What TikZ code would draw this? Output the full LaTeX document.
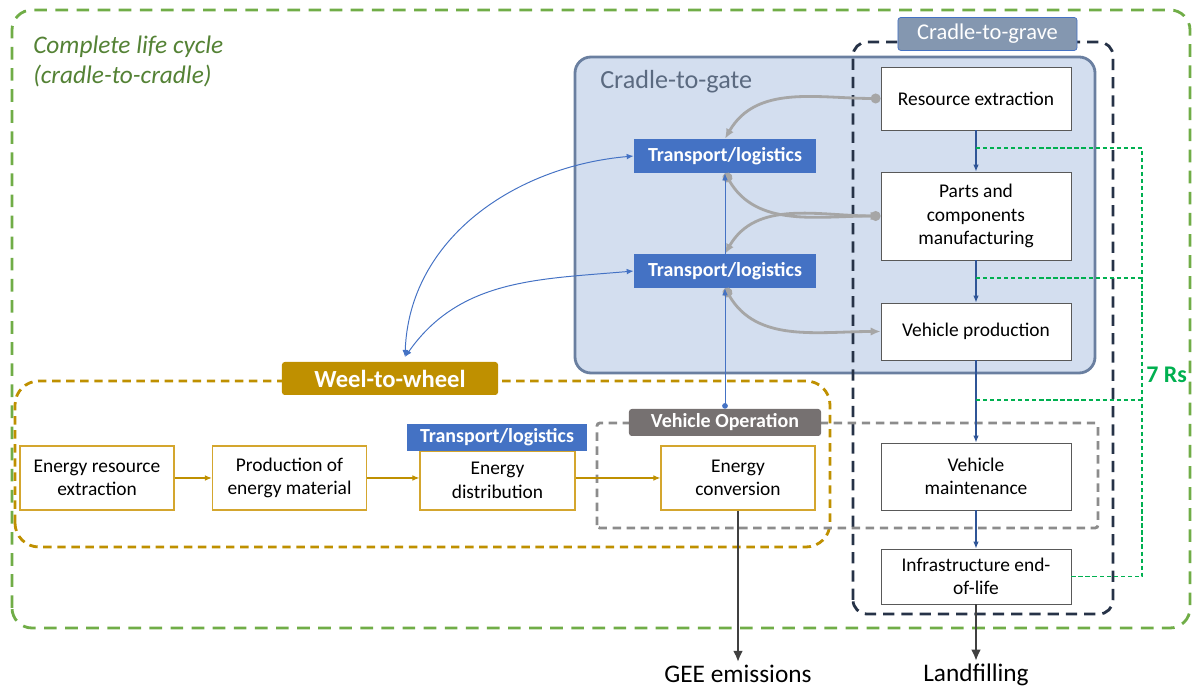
\documentclass[tikz,border=0pt]{standalone}
\usepackage{fontspec}
\setmainfont{Carlito}
\usetikzlibrary{positioning, arrows.meta}

\definecolor{lcgreen}{HTML}{70AD47}
\definecolor{lctext}{HTML}{548235}
\definecolor{gatefill}{HTML}{D3DEEF}
\definecolor{gateline}{HTML}{6A7FA0}
\definecolor{gatetext}{HTML}{5B6A80}
\definecolor{graveline}{HTML}{263247}
\definecolor{gravefill}{HTML}{8497B0}
\definecolor{boxgray}{HTML}{595959}
\definecolor{flowblue}{HTML}{2F5597}
\definecolor{logiblue}{HTML}{4472C4}
\definecolor{rsgreen}{HTML}{00B050}
\definecolor{wtwgold}{HTML}{BF9000}
\definecolor{wtwbox}{HTML}{D4A62E}
\definecolor{opgray}{HTML}{767171}
\definecolor{dashgray}{HTML}{8C8C8C}
\definecolor{arrowgray}{HTML}{A6A6A6}
\definecolor{outdark}{HTML}{404040}

\newcommand{\boxfont}{\fontsize{13.8}{16.8}\selectfont}
\newcommand{\tagfont}{\fontsize{16}{19}\selectfont}
\newcommand{\bigfont}{\fontsize{18}{21}\selectfont}

\begin{document}
\begin{tikzpicture}[x=0.025cm, y=0.025cm, >={Latex[length=5pt,width=4pt]},
  stage/.style={draw=boxgray, fill=white, line width=0.6pt, align=center, inner sep=0pt, minimum width=4.75cm, font=\boxfont},
  energy/.style={draw=wtwbox, fill=white, line width=0.8pt, align=center, inner sep=0pt, minimum width=3.85cm, minimum height=1.6cm, font=\boxfont},
  logistics/.style={fill=logiblue, text=white, inner sep=0pt, minimum width=4.55cm, minimum height=0.85cm, font=\fontsize{14.2}{17}\selectfont\bfseries},
  tag/.style={rounded corners=2pt, text=white, inner sep=0pt, font=\tagfont},
  flow/.style={->, flowblue, line width=0.8pt},
  efflow/.style={->, wtwgold, line width=0.8pt},
  reuse/.style={rsgreen, line width=0.8pt, dash pattern=on 3pt off 2pt},
  supply/.style={arrowgray, line width=2pt, {Circle[length=7pt]}-{Latex[length=7pt,width=6pt]}},
  link/.style={logiblue, line width=0.7pt},
  release/.style={outdark, line width=2pt, -{Latex[length=8pt,width=7pt]}}
]
  \useasboundingbox (0,0) rectangle (1196,688);

  % Define enclosures
  \draw[lcgreen, line width=2pt, dash pattern=on 9pt off 6pt, rounded corners=0.5cm] (12,60) rectangle (1190,678);
  \draw[gateline, fill=gatefill, line width=2pt, rounded corners=0.4cm] (575,315) rectangle (1095,631);
  \draw[graveline, line width=2pt, dash pattern=on 8pt off 5pt, rounded corners=0.35cm] (853,74) rectangle (1113,646);
  \draw[wtwgold, line width=2pt, dash pattern=on 6pt off 4pt, rounded corners=0.6cm] (15,141) rectangle (830,307);
  \draw[dashgray, line width=2pt, dash pattern=on 6pt off 4pt, rounded corners=2pt] (597,160) rectangle (1098,265);

  \node[anchor=north west, align=left, text=lctext, inner sep=0pt, font=\fontsize{18}{21.3}\selectfont\itshape] (cycle) at (33,652) {Complete life cycle\\(cradle-to-cradle)};
  \node[anchor=west, text=gatetext, inner sep=0pt, font=\fontsize{18.6}{21}\selectfont] (gate) at (600,606) {Cradle-to-gate};

  % Define blocks
  \node[stage, minimum height=1.575cm] (res) at (976,589.5) {Resource extraction};
  \node[stage, minimum height=2.2cm] (parts) at (976,472) {Parts and\\components\\manufacturing};
  \node[stage, minimum height=1.425cm] (vprod) at (976,356.5) {Vehicle production};
  \node[stage, minimum height=1.675cm] (vmaint) at (976,211.5) {Vehicle\\maintenance};
  \node[stage, minimum height=1.375cm] (eol) at (976,111.5) {Infrastructure end-\\of-life};

  \node[logistics] (tl1) at (725,532) {Transport/logistics};
  \node[logistics] (tl2) at (725,417) {Transport/logistics};

  \node[energy] (eres) at (97,210) {Energy resource\\extraction};
  \node[energy] (eprod) at (289.5,210) {Production of\\energy material};
  \node[energy, minimum width=3.875cm, minimum height=1.475cm] (edist) at (497.5,207.5) {Energy\\distribution};
  \node[energy] (econv) at (738,210) {Energy\\conversion};
  \node[logistics, minimum width=4.5cm, minimum height=0.675cm] (tl3) at (497,250.5) {Transport/logistics};

  \node[tag, fill=gravefill, draw=logiblue, line width=0.5pt, minimum width=4.475cm, minimum height=0.825cm] (grave) at (987.5,654) {Cradle-to-grave};
  \node[tag, fill=wtwgold, font=\fontsize{17.5}{20}\selectfont\bfseries, minimum width=5.4cm, minimum height=0.825cm] (wtw) at (390,309.5) {Weel-to-wheel};
  \node[tag, fill=opgray, font=\fontsize{14.2}{17}\selectfont\bfseries, minimum width=4.8cm, minimum height=0.675cm] (vop) at (725,265.5) {Vehicle Operation};

  \node[inner sep=2pt, font=\bigfont] (gee) at (738,14) {GEE emissions};
  \node[inner sep=2pt, font=\bigfont] (landfill) at (976,13) {Landfilling};
  \node[anchor=west, inner sep=0pt, text=rsgreen, font=\fontsize{17}{20}\selectfont\bfseries] (rs) at (1146,313) {7 Rs};

  % Connect blocks
  \draw[flow] (res) -- (parts);
  \draw[flow] (parts) -- (vprod);
  \draw[flow] (vprod) -- (vmaint);
  \draw[flow] (vmaint) -- (eol);

  \coordinate (r1) at (976,540);
  \coordinate (r2) at (976,410);
  \coordinate (r3) at (976,288);
  \coordinate (rail) at (1142,540);
  \draw[reuse] (r1) -- (rail) |- (eol.east);
  \draw[reuse] (r2) -- (r2 -| rail);
  \draw[reuse] (r3) -- (r3 -| rail);

  \draw[supply] (res.west) to[out=180, in=60] (tl1.north);
  \draw[supply] (tl1.south) to[out=-60, in=180] (parts.west);
  \draw[supply] (parts.west) to[out=180, in=60] (tl2.north);
  \draw[supply] (tl2.south) to[out=-60, in=180] (vprod.west);

  \coordinate (wtip) at (405,331);
  \draw[link, <->] (wtip) to[out=88, in=185] (tl1.west);
  \draw[link, <->] (wtip) to[out=55, in=185] (tl2.west);
  \draw[link, {Circle[length=4pt]}->] (vop.north) -- (tl2.south);
  \draw[link, ->] (tl2.north) -- (tl1.south);

  \draw[efflow] (eres) -- (eprod);
  \draw[efflow] (eprod.east) -- (eprod.east -| edist.west);
  \draw[efflow] (econv.west -| edist.east) -- (econv.west);

  \draw[release] (econv.south) -- (gee.north);
  \draw[release] (eol.south) -- (landfill.north);
\end{tikzpicture}
\end{document}
